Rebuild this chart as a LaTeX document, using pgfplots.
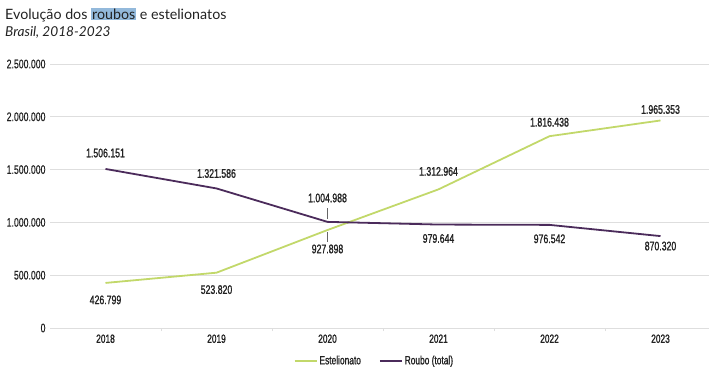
\documentclass[border=0pt]{standalone}
\usepackage{pgfplots}
\pgfplotsset{compat=1.18}
\usepackage{pgfplotstable}
\usepackage{fontspec}
\setmainfont{Lato}
\newfontfamily\cond{Liberation Sans}[FakeStretch=0.7, RawFeature={embolden=1.2}]
\newfontfamily\condl{Liberation Sans}[FakeStretch=0.7, RawFeature={embolden=0.5}]
\definecolor{est}{HTML}{C2D86A}
\definecolor{rob}{HTML}{4B2B5B}
\definecolor{gridc}{HTML}{DEDEDE}
\definecolor{hl}{HTML}{93B9DB}
\definecolor{txt}{HTML}{222222}

\pgfplotstableread{
x est elab edy rob rlab rdy
0 426799 426.799 -17 1506151 1.506.151 16
1 523820 523.820 -17 1321586 1.321.586 15
2 927898 927.898 -19 1004988 1.004.988 24
3 1312964 1.312.964 18 979644 979.644 -14
4 1816438 1.816.438 14 976542 976.542 -14
5 1965353 1.965.353 11 870320 870.320 -10
}\data

\begin{document}
\begin{tikzpicture}[x=1bp,y=1bp]
\path[use as bounding box] (0,0) rectangle (709,368);
\node[anchor=base west, inner sep=0, text=txt] at (5,349)
  {\fontsize{14.3}{17}\selectfont Evolução dos {\setlength{\fboxsep}{1bp}\colorbox{hl}{roubos}} e estelionatos};
\node[anchor=base west, inner sep=0, text=txt] at (5,332)
  {\fontsize{13.7}{16}\selectfont\itshape Brasil, 2018-2023};
\begin{axis}[
  at={(50bp,40bp)}, anchor=south west,
  scale only axis, width=659bp, height=264bp,
  xmin=-0.5, xmax=5.437, ymin=0, ymax=2500000,
  axis x line=bottom, axis y line=left,
  x axis line style={draw=gridc, -},
  y axis line style={draw=none},
  xtick={0,1,2,3,4,5},
  xticklabels={2018,2019,2020,2021,2022,2023},
  major tick length=0pt,
  extra x ticks={0.5,1.5,2.5,3.5,4.5},
  extra x tick labels={},
  extra x tick style={major tick length=3bp, tick align=outside, tick style={draw=gridc}, grid=none},
  ytick={0,500000,1000000,1500000,2000000,2500000},
  yticklabel={\pgfmathprintnumber[fixed,precision=0,1000 sep={.}]{\tick}},
  scaled y ticks=false,
  /pgf/number format/assume math mode=true,
  ymajorgrids, grid style={draw=gridc, line width=0.8bp},
  xticklabel style={font=\cond\fontsize{12}{14}\selectfont, text=txt, yshift=-3bp},
  yticklabel style={font=\condl\fontsize{12.5}{14}\selectfont, text=txt, xshift=-1bp},
  clip=false,
  legend columns=2,
  legend style={at={(0.365,-0.124)}, anchor=west, draw=none, fill=none,
    font=\cond\fontsize{12}{14}\selectfont, text=txt,
    /tikz/every even column/.append style={column sep=16bp}},
  legend image code/.code={\draw[#1] (0bp,0bp) -- (22bp,0bp);},
  point meta=explicit symbolic,
  nodes near coords,
  every node near coord/.append style={font=\cond\fontsize{12.5}{14}\selectfont, text=txt, anchor=center, yshift=\dy},
]
\addplot[est, line width=1.8bp, no marks, visualization depends on={\thisrow{edy} \as \dy}]
  table[x=x, y=est, meta=elab] {\data};
\addlegendentry{Estelionato}
\addplot[rob, line width=1.8bp, no marks, visualization depends on={\thisrow{rdy} \as \dy}]
  table[x=x, y=rob, meta=rlab] {\data};
\addlegendentry{Roubo (total)}
\draw[black!60, line width=1bp] ([yshift=3bp]axis cs:2,1004988) -- ([yshift=14bp]axis cs:2,1004988);
\draw[black!60, line width=1bp] ([yshift=-2bp]axis cs:2,927898) -- ([yshift=-12bp]axis cs:2,927898);
\end{axis}
\end{tikzpicture}
\end{document}
